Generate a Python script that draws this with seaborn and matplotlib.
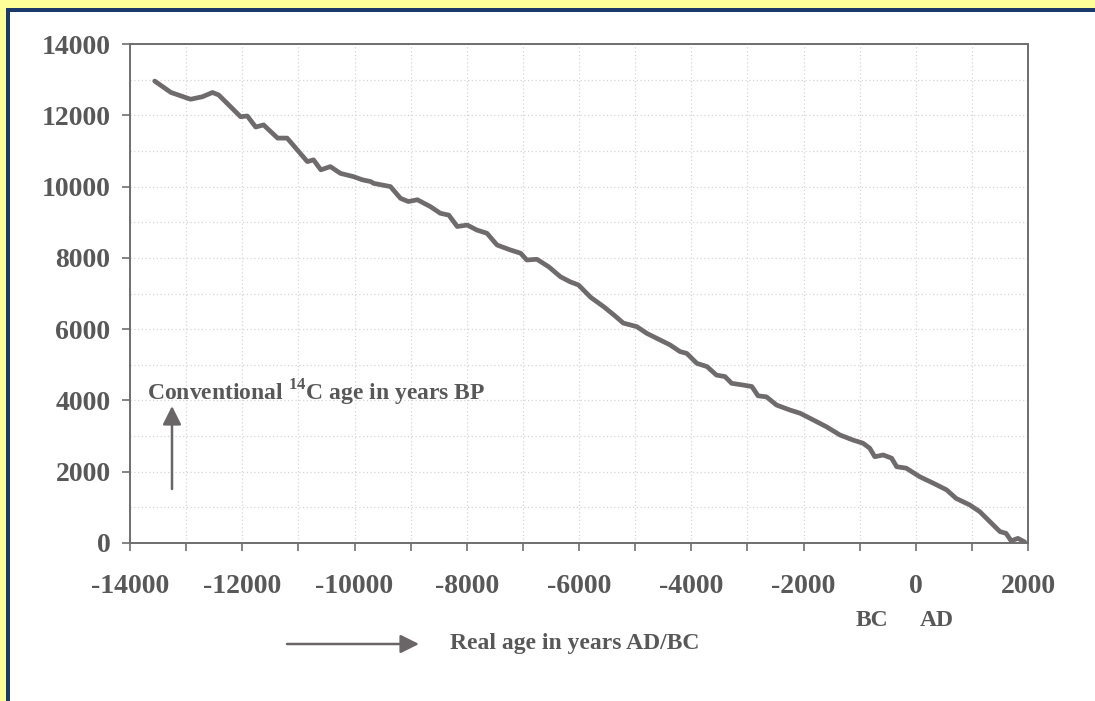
import matplotlib
matplotlib.use("Agg")
import numpy as np
import pandas as pd
import seaborn as sns
import matplotlib.pyplot as plt
from matplotlib.patches import Rectangle

# ---- data (calendar age AD/BC vs conventional 14C age BP)
real_age = [-13560, -13270, -12920, -12710, -12530, -12420, -12240, -12030, -11910,
            -11760, -11620, -11370, -11200, -11020, -10840, -10730, -10600, -10430,
            -10250, -10020, -9860, -9710, -9660, -9360, -9180, -9040, -8880, -8650,
            -8470, -8320, -8170, -7990, -7820, -7640, -7460, -7220, -7040, -6930,
            -6750, -6540, -6330, -6160, -6010, -5790, -5560, -5380, -5210, -4970,
            -4790, -4560, -4380, -4200, -4080, -3900, -3720, -3550, -3400, -3280,
            -3070, -2920, -2810, -2660, -2480, -2240, -2060, -1860, -1590, -1350,
            -1120, -940, -820, -730, -580, -430, -340, -170, 70, 310, 550, 720,
            960, 1140, 1320, 1500, 1610, 1700, 1820, 1940]
c14_age = [12960, 12640, 12450, 12520, 12640, 12570, 12290, 11960, 11980,
           11670, 11730, 11360, 11360, 11030, 10700, 10750, 10470, 10560,
           10370, 10280, 10190, 10140, 10090, 10000, 9670, 9580, 9630, 9440,
           9250, 9200, 8880, 8920, 8780, 8690, 8360, 8220, 8130, 7940,
           7960, 7750, 7470, 7330, 7240, 6890, 6630, 6400, 6170, 6070,
           5880, 5700, 5560, 5370, 5320, 5040, 4950, 4710, 4670, 4480,
           4430, 4390, 4130, 4100, 3870, 3730, 3640, 3480, 3260, 3030,
           2890, 2800, 2660, 2420, 2470, 2380, 2140, 2100, 1860, 1680, 1490, 1250,
           1070, 880, 600, 320, 270, 60, 130, 30]

x_major = list(range(-14000, 2001, 2000))
x_minor = list(range(-14000, 2001, 1000))
y_major = list(range(0, 14001, 2000))
y_minor = list(range(0, 14001, 1000))
x_labels = [str(v) for v in x_major]
y_labels = [str(v) for v in y_major]

df = pd.DataFrame({"real": real_age, "c14": c14_age})

sns.set_theme(style="white")
plt.rcParams["font.family"] = ["Liberation Serif", "DejaVu Serif"]
plt.rcParams["mathtext.fontset"] = "custom"
plt.rcParams["mathtext.rm"] = "Liberation Serif:bold"
plt.rcParams["mathtext.bf"] = "Liberation Serif:bold"

W, H = 1095, 701
FS = 17
TFS = 20
fig = plt.figure(figsize=(W / 100, H / 100), dpi=100)
fig.patch.set_facecolor("#FFFF99")
# white panel with navy frame (top and left visible)
fig.patches.append(Rectangle((6 / W, 0), 1, (H - 8) / H, transform=fig.transFigure,
                             facecolor="#1B3A6B", edgecolor="none", zorder=-20))
fig.patches.append(Rectangle((10 / W, 0), 1, (H - 12) / H, transform=fig.transFigure,
                             facecolor="white", edgecolor="none", zorder=-10))

ax = fig.add_axes([130 / W, 158 / H, 898 / W, 499 / H])
ax.set_zorder(5)
ax.set_facecolor("white")

TXT = "#585858"
SP = "#6e6e6e"

sns.lineplot(data=df, x="real", y="c14", ax=ax, color="#6f6b6d", linewidth=3.4,
             sort=False, estimator=None)

ax.set_xlim(-14000, 2000)
ax.set_ylim(0, 14000)
ax.set_xticks(x_major)
ax.set_xticks(x_minor, minor=True)
ax.set_yticks(y_major)
ax.set_yticks(y_minor, minor=True)
ax.set_xticklabels(x_labels, fontsize=TFS, fontweight="bold", color=TXT)
ax.set_yticklabels(y_labels, fontsize=TFS, fontweight="bold", color=TXT)
ax.set_xlabel("")
ax.set_ylabel("")

ax.grid(True, which="both", color="#d6d6d6", linestyle=(0, (1, 2)), linewidth=0.9)
ax.tick_params(axis="x", which="both", direction="out", length=6, width=1.2,
               color=SP, bottom=True)
ax.tick_params(axis="x", which="major", pad=16)
ax.tick_params(axis="y", which="major", direction="out", length=6, width=1.2,
               color=SP, left=True, pad=8)
ax.tick_params(axis="y", which="minor", length=0)
for s in ax.spines.values():
    s.set_visible(True)
    s.set_color(SP)
    s.set_linewidth(1.4)

def fp(x, y):
    return (x, H - y)

fig.text(147 / W, 1 - 393 / H, r"Conventional $^{14}$C age in years BP", ha="left",
         va="center", fontsize=FS, fontweight="bold", color=TXT, zorder=10)
fig.text(450 / W, 1 - 643 / H, "Real age in years AD/BC", ha="left", va="center",
         fontsize=FS, fontweight="bold", color=TXT)
fig.text(872 / W, 1 - 620 / H, "BC", ha="center", va="center", fontsize=FS,
         fontweight="bold", color=TXT)
fig.text(937 / W, 1 - 620 / H, "AD", ha="center", va="center", fontsize=FS,
         fontweight="bold", color=TXT)

fig.add_artist(matplotlib.patches.FancyArrowPatch(
    fp(172, 489), fp(172, 406), transform=None, arrowstyle="-|>", color="#6a6668",
    lw=1.8, mutation_scale=28, shrinkA=0, shrinkB=0, zorder=10))
fig.add_artist(matplotlib.patches.FancyArrowPatch(
    fp(287, 644), fp(419, 644), transform=None, arrowstyle="-|>", color="#6a6668",
    lw=1.8, mutation_scale=28, shrinkA=0, shrinkB=0, zorder=10))

fig.savefig("out.png", dpi=100, facecolor=fig.get_facecolor())
